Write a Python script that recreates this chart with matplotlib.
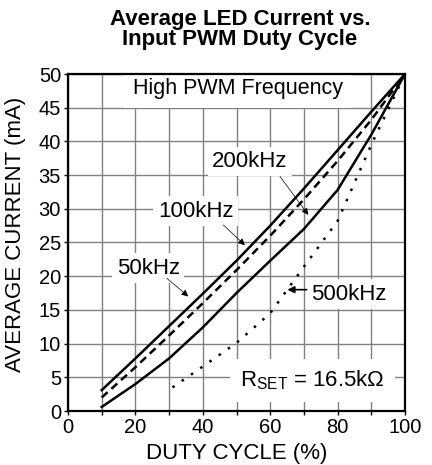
import matplotlib
matplotlib.use("Agg")
import matplotlib.pyplot as plt

plt.rcParams["font.family"] = ["Liberation Sans", "DejaVu Sans"]

# Data
duty = [10, 20, 30, 40, 50, 60, 70, 80, 90, 100]
i_50k = [3.1, 7.8, 12.6, 17.4, 22.3, 27.5, 33.0, 38.7, 44.4, 50.0]
i_100k = [2.0, 6.5, 11.2, 16.0, 20.9, 26.0, 31.4, 37.1, 43.2, 50.0]
i_200k = [0.6, 4.0, 7.8, 12.4, 17.5, 22.3, 27.0, 32.8, 41.0, 50.0]
duty_500k = [31, 40, 50, 60, 70, 80, 90, 100]
i_500k = [3.5, 6.6, 10.1, 14.5, 21.4, 28.2, 39.5, 50.0]

x_ticks = [0, 20, 40, 60, 80, 100]
y_ticks = [0, 5, 10, 15, 20, 25, 30, 35, 40, 45, 50]

fig = plt.figure(figsize=(4.32, 4.65), dpi=100)
ax = fig.add_axes([68 / 432, 1 - 411 / 465, 337 / 432, 337 / 465])

# Curves
lw = 1.8
ax.plot(duty, i_50k, color="black", lw=lw, zorder=4)
ax.plot(duty, i_100k, color="black", lw=lw, linestyle=(0, (3.2, 2.0)), zorder=4)
ax.plot(duty, i_200k, color="black", lw=lw, zorder=4)
ax.plot(duty_500k, i_500k, color="black", lw=lw, linestyle=(0, (1, 3.5)), zorder=4)

# Axes, ticks and grid
ax.set_xlim(0, 100)
ax.set_ylim(0, 50)
ax.set_xticks(x_ticks)
ax.set_xticks(range(10, 100, 20), minor=True)
ax.set_yticks(y_ticks)
ax.grid(True, which="both", color="#808080", lw=1.0, zorder=1)
ax.tick_params(which="both", direction="out", length=3, width=1.0,
               labelsize=14.5, pad=2)
for s in ax.spines.values():
    s.set_linewidth(1.6)
    s.set_zorder(6)

ax.set_xlabel("DUTY CYCLE (%)", fontsize=16, labelpad=4)
ax.set_ylabel("AVERAGE CURRENT (mA)", fontsize=16)
ax.yaxis.set_label_coords(-0.125, 0.525)

# Title (two lines)
fig.text(240 / 432, 1 - 25.5 / 465, "Average LED Current vs.", fontsize=16,
         fontweight="bold", ha="center", va="baseline")
fig.text(240 / 432, 1 - 45 / 465, "Input PWM Duty Cycle", fontsize=16,
         fontweight="bold", ha="center", va="baseline")

# Text labels with white boxes over the grid
box = dict(facecolor="white", edgecolor="none", boxstyle="square,pad=0.2")
ax.text(50.3, 47.8, "High PWM Frequency", fontsize=15.5, ha="center",
        va="center", zorder=3,
        bbox=dict(facecolor="white", edgecolor="none",
                  boxstyle="square,pad=0.4"))
ax.text(54.0, 36.2, "200kHz", fontsize=16, ha="center", va="baseline",
        zorder=3, bbox=box)
ax.text(37.9, 28.8, "100kHz", fontsize=16, ha="center", va="baseline",
        zorder=3, bbox=box)
ax.text(23.8, 20.4, "50kHz", fontsize=16, ha="center", va="baseline",
        zorder=3, bbox=box)
ax.text(83.2, 16.5, "500kHz", fontsize=16, ha="center", va="baseline",
        zorder=3, bbox=box)
ax.text(51.0, 3.6, r"$\mathregular{R_{SET}}$ = 16.5kΩ", fontsize=16,
        ha="left", va="baseline", zorder=3,
        bbox=dict(facecolor="white", edgecolor="none",
                  boxstyle="square,pad=0.45"))

# Leader arrows
leader = dict(arrowstyle="-|>", color="black", lw=0.5, mutation_scale=10,
              shrinkA=0, shrinkB=0)
ax.annotate("", xy=(35.7, 17.0), xytext=(29.3, 19.7), arrowprops=leader,
            zorder=5)
ax.annotate("", xy=(52.5, 24.6), xytext=(46.1, 27.6), arrowprops=leader,
            zorder=5)
ax.annotate("", xy=(71.3, 29.1), xytext=(62.9, 34.8), arrowprops=leader,
            zorder=5)
ax.annotate("", xy=(65.1, 18.0), xytext=(70.8, 18.0),
            arrowprops=dict(arrowstyle="-|>", color="black", lw=1.2,
                            mutation_scale=10, shrinkA=0, shrinkB=0),
            zorder=5)

fig.savefig("out.png", dpi=100)
